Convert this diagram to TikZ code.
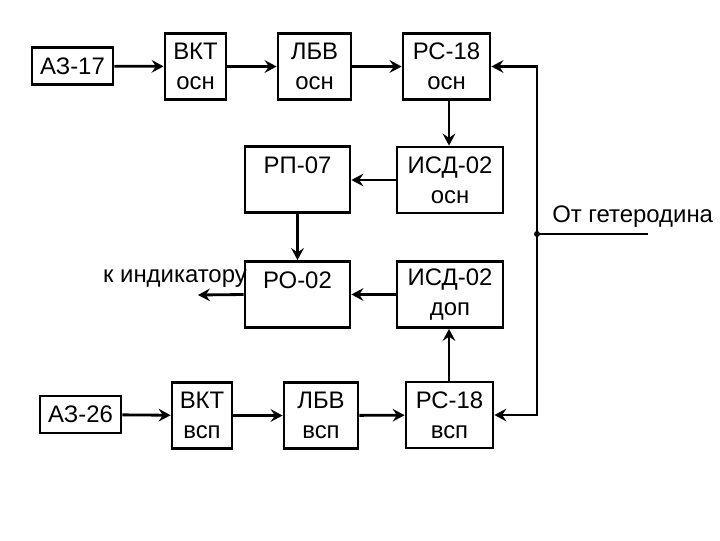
\documentclass[tikz,border=0pt]{standalone}
\usepackage{fontspec}
\setmainfont{Liberation Sans}
\usetikzlibrary{arrows.meta}
\begin{document}
\begin{tikzpicture}[
        x=0.025cm, y=-0.025cm,
        block/.style={rectangle, draw, line width=2pt, inner sep=0pt, align=center,
            font=\fontsize{17}{21}\selectfont, minimum height=66*0.025cm},
        small/.style={block, minimum height=37*0.025cm},
        label/.style={inner sep=0pt, font=\fontsize{17}{19}\selectfont},
        arrow/.style={-{Stealth[length=8.5pt, width=9pt, inset=3pt]}, line width=2pt}
    ]
        \useasboundingbox (0,0) rectangle (720,540);
        \node[small, minimum width=81*0.025cm] (az17) at (72.5,66) {АЗ-17};
        \node[block, minimum width=61*0.025cm] (vkt1) at (195.5,66.5) {ВКТ\\осн};
        \node[block, minimum width=73*0.025cm] (lbv1) at (314.5,66.5) {ЛБВ\\осн};
        \node[block, minimum width=87*0.025cm] (rs1) at (446.5,66.5) {РС-18\\осн};
        \node[block, minimum width=105*0.025cm] (rp) at (297.5,179.5) {РП-07\\\mbox{}};
        \node[block, minimum width=106*0.025cm] (isd1) at (450,180) {ИСД-02\\осн};
        \node[block, minimum width=105*0.025cm] (ro) at (297.5,294.5) {РО-02\\\mbox{}};
        \node[block, minimum width=106*0.025cm] (isd2) at (450,294.5) {ИСД-02\\доп};
        \node[small, minimum width=81*0.025cm] (az26) at (80.5,414.5) {АЗ-26};
        \node[block, minimum width=60*0.025cm] (vkt2) at (202,415.5) {ВКТ\\всп};
        \node[block, minimum width=74*0.025cm] (lbv2) at (321,415.5) {ЛБВ\\всп};
        \node[block, minimum width=87*0.025cm] (rs2) at (449.5,415) {РС-18\\всп};
        \node[label, anchor=base east] (ind) at (247,282) {к индикатору};
        \node[label, anchor=base west] (het) at (552,222) {От гетеродина};
        \coordinate (hetin) at (648,234);
        \coordinate (jn) at (537,234);
        \coordinate (indout) at (198,295);
        \draw[arrow] (az17) -- (vkt1);
        \draw[arrow] (vkt1) -- (lbv1);
        \draw[arrow] (lbv1) -- (rs1);
        \draw[arrow] (rs1.south -| 449,0) -- (isd1.north -| 449,0);
        \draw[arrow] (isd1.west) -- (rp.east |- isd1.west);
        \draw[arrow] (rp) -- (ro);
        \draw[arrow] (isd2) -- (ro);
        \draw[arrow] (ro.west) -- (indout);
        \draw[arrow] (rs2.north -| 449,0) -- (isd2.south -| 449,0);
        \draw[arrow] (az26) -- (vkt2);
        \draw[arrow] (vkt2) -- (lbv2);
        \draw[arrow] (lbv2) -- (rs2);
        \draw[line width=2pt] (hetin) -- (jn);
        \draw[arrow] (jn) |- (rs1.east);
        \draw[arrow] (jn) |- (rs2.east);
        \fill (jn) circle (3);
    \end{tikzpicture}
\end{document}
